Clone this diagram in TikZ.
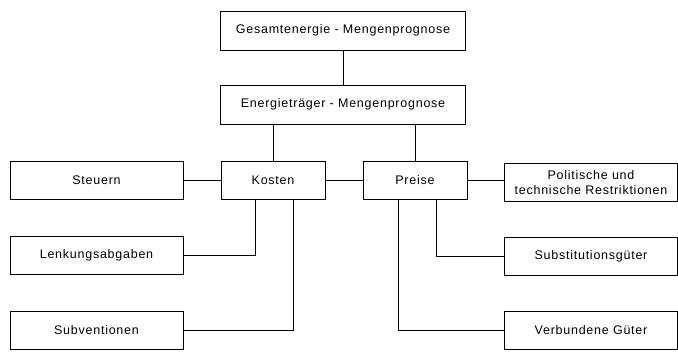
\documentclass[tikz,border=0pt]{standalone}
\usepackage{fontspec}
\setmainfont[LetterSpace=6]{Liberation Sans}
\usetikzlibrary{positioning}

\begin{document}
\begin{tikzpicture}[x=1pt,y=-1pt,on grid,line width=.6pt,
      font=\fontsize{12.5}{15}\selectfont,
      box/.style={draw,rectangle,align=center,minimum height=38pt,inner sep=0pt},
      wide/.style={box,minimum width=245pt,minimum height=39pt},
      small/.style={box,minimum width=104pt},
      side/.style={box,minimum width=173pt}]
			\useasboundingbox (0,0) rectangle (678,354);
			\node[wide] (ges) at (343,30.5) {Gesamtenergie - Mengenprognose};
			\node[wide] (etr) [below=74pt of ges] {Energieträger - Mengenprognose};
			\node[small] (kosten) [below left=76pt and 70pt of etr] {Kosten};
			\node[small] (preise) [right=142pt of kosten] {Preise};
			\node[side] (steuern) [left=176.5pt of kosten] {Steuern};
			\node[side] (lenk) [below=75pt of steuern] {Lenkungsabgaben};
			\node[side] (subv) [below=75pt of lenk] {Subventionen};
			\node[side] (polit) [right=176pt of preise,yshift=-2pt] {Politische und\\technische Restriktionen};
			\node[side] (subst) [below=74pt of polit] {Substitutionsgüter};
			\node[side] (verb) [below=74pt of subst] {Verbundene Güter};
			\draw (ges) -- (etr);
			\draw (etr.south -| kosten.north) -- (kosten.north);
			\draw (etr.south -| preise.north) -- (preise.north);
			\draw (steuern) -- (kosten);
			\draw (kosten) -- (preise);
			\draw (preise.east) -- (preise.east -| polit.west);
			\draw (lenk.east) -| ([xshift=-18pt]kosten.south);
			\draw (subv.east) -| ([xshift=20pt]kosten.south);
			\draw (subst.west) -| ([xshift=21pt]preise.south);
			\draw (verb.west) -| ([xshift=-16.5pt]preise.south);
		\end{tikzpicture}
\end{document}
